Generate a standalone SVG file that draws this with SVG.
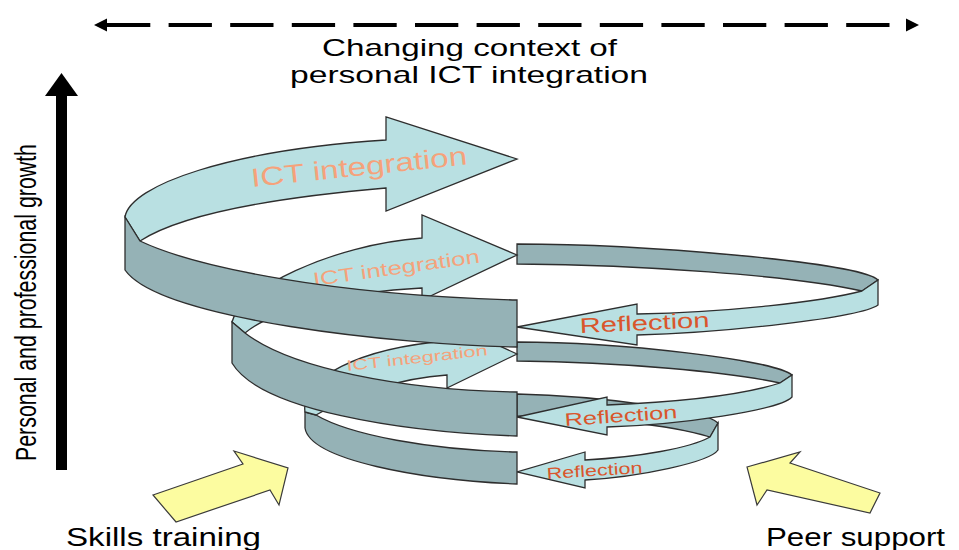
<svg xmlns="http://www.w3.org/2000/svg" width="959" height="550" viewBox="0 0 959 550">
<defs>
<style>
.light{fill:#b9e0e2;stroke:#2e2e2e;stroke-width:1.3;stroke-linejoin:miter}
.dark{fill:#95b2b6;stroke:#2e2e2e;stroke-width:1.3;stroke-linejoin:miter}
.yellow{fill:#fcfca0;stroke:#3a3a3a;stroke-width:1.2}
.txt{font-family:"Liberation Sans",Arial,Helvetica,sans-serif}
.ict{fill:#f5a27b}
.refl{fill:#d9562c}
.lbl{fill:#000}
</style>
<marker id="ctxHead" markerUnits="userSpaceOnUse" markerWidth="14" markerHeight="14" viewBox="0 -7 14 14" refX="0" refY="0" orient="auto-start-reverse"><path d="M0,-6.5 L13,0 L0,6.5 Z" fill="#000"/></marker>
<marker id="growthHead" markerUnits="userSpaceOnUse" markerWidth="24" markerHeight="34" viewBox="0 -17 24 34" refX="0" refY="0" orient="auto"><path d="M0,-16.5 L23,0 L0,16.5 Z" fill="#000"/></marker>
</defs>
<rect width="959" height="550" fill="#fff"/>

<g id="connectors">
<line id="context-axis" x1="107" y1="25" x2="906" y2="25" stroke="#000" stroke-width="4" stroke-dasharray="43.3 18.3" marker-start="url(#ctxHead)" marker-end="url(#ctxHead)"/>
<line id="growth-axis" x1="61.5" y1="470" x2="61.5" y2="96" stroke="#000" stroke-width="11" marker-end="url(#growthHead)"/>
</g>

<g id="context-label">
<text class="txt lbl" x="322" y="56" font-size="24" textLength="295" lengthAdjust="spacingAndGlyphs">Changing context of</text>
<text class="txt lbl" x="290" y="83" font-size="24" textLength="358" lengthAdjust="spacingAndGlyphs">personal ICT integration</text>
</g>
<g id="growth-label">
<text class="txt lbl" transform="translate(36,461) rotate(-90)" font-size="30" textLength="317" lengthAdjust="spacingAndGlyphs">Personal and professional growth</text>
</g>

<g id="reflection-3">
<path class="dark" d="M517,394 C600,396 705,410 718,423 L710,437 C680,428 620,418 517,416 Z"/>
<path class="light" d="M718,423 L718,450 C710,462 640,477 585,480 L585,488 L517,472 L585,452 L585,460 C640,457 690,448 710,437 Z"/>
<text class="txt refl" x="547" y="479" font-size="16" textLength="96" lengthAdjust="spacingAndGlyphs" transform="rotate(-3.6 547 479)">Reflection</text>
</g>
<g id="reflection-2">
<path class="dark" d="M517,342 C620,342 775,360 792,375 L780,383 C730,372 620,362 517,361 Z"/>
<path class="light" d="M792,375 L792,397 C780,410 680,425 607,427 L607,435 L517,417 L607,397 L607,405 C680,402 740,396 780,383 Z"/>
<text class="txt refl" x="565" y="426" font-size="18" textLength="113" lengthAdjust="spacingAndGlyphs" transform="rotate(-4 565 426)">Reflection</text>
</g>
<g id="reflection-1">
<path class="dark" d="M517,244 C640,244 860,262 878,280 L862,291 C790,275 640,265 517,264 Z"/>
<path class="light" d="M878,280 L878,305 C860,318 720,333 637,335 L637,345 L517,327 L637,304 L637,314 C730,312 820,302 862,291 Z"/>
<text class="txt refl" x="580" y="333" font-size="21" textLength="130" lengthAdjust="spacingAndGlyphs" transform="rotate(-2.6 580 333)">Reflection</text>
</g>

<g id="ict-integration-3">
<path class="dark" d="M305,412 L316,415 C350,435 430,450 517,452 L517,484 C420,480 310,460 305,428 Z"/>
<path class="light" d="M305,412 C300,378 360,348 447,341 L447,322 L517,354 L447,388 L447,375 C400,378 350,395 316,415 Z"/>
<text class="txt ict" x="347" y="371" font-size="15" textLength="142" lengthAdjust="spacingAndGlyphs" transform="rotate(-6.4 347 371)">ICT integration</text>
</g>
<g id="ict-integration-2">
<path class="light" d="M232,322 C240,290 330,245 422,238 L422,215 L517,255 L422,300 L422,288 C350,292 280,305 245,333 Z"/>
<text class="txt ict" x="314" y="286" font-size="19" textLength="168" lengthAdjust="spacingAndGlyphs" transform="rotate(-8 314 286)">ICT integration</text>
<path class="dark" d="M232,322 L245,333 C290,368 400,390 517,392 L517,436 C400,432 260,410 232,363 Z"/>
</g>
<g id="ict-integration-1">
<path class="light" d="M125,217 C130,185 230,150 386,140 L386,117 L517,159 L386,211 L386,188 C270,198 180,215 140,241 Z"/>
<text class="txt ict" x="252" y="187" font-size="26" textLength="217" lengthAdjust="spacingAndGlyphs" transform="rotate(-6 252 187)">ICT integration</text>
<path class="dark" d="M125,217 L140,241 C195,267 330,295 517,300 L517,347 C400,345 160,320 125,270 Z"/>
</g>

<g id="skills-training">
<polygon class="yellow" points="153,495 243,464 234,451 288,468 279,505 270,490 176,522"/>
<text class="txt lbl" x="66" y="546" font-size="25" textLength="195" lengthAdjust="spacingAndGlyphs">Skills training</text>
</g>
<g id="peer-support">
<polygon class="yellow" points="747,467 800,452 790,463 880,493 870,513 767,490 757,505"/>
<text class="txt lbl" x="766" y="546" font-size="25" textLength="179" lengthAdjust="spacingAndGlyphs">Peer support</text>
</g>
</svg>
